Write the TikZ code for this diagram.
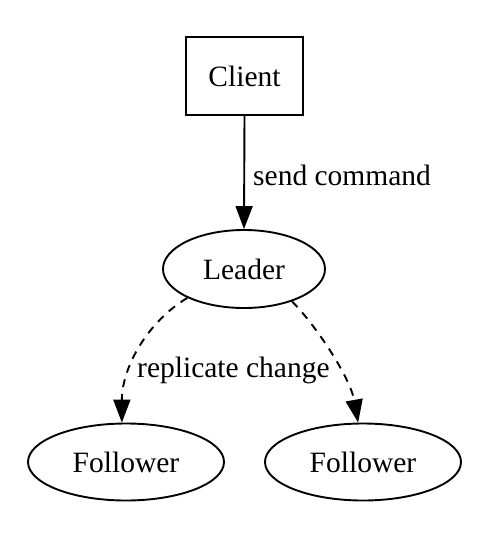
\documentclass[tikz,border=0pt]{standalone}
\usepackage{fontspec}
\setmainfont{Liberation Serif}
\usetikzlibrary{shapes.geometric,arrows.meta}
\begin{document}
\begin{tikzpicture}[x=1pt,y=-1pt,
  every node/.style={font=\fontsize{29.5}{34}\selectfont},
  boxnode/.style={draw, rectangle, line width=1.9pt, minimum width=117pt, minimum height=78pt, inner sep=0pt},
  ellnode/.style={draw, ellipse, line width=1.9pt, inner sep=0pt},
  link/.style={line width=1.9pt, -{Triangle[length=23pt,width=17pt]}},
  repl/.style={link, dash pattern=on 8pt off 7pt},
  lbl/.style={inner sep=0pt, anchor=base west}]
\useasboundingbox (0,0) rectangle (481,547);
\node[boxnode] (client) at (244.5,76) {Client};
\node[ellnode, minimum width=162pt, minimum height=78pt] (leader) at (244,269) {Leader};
\node[ellnode, minimum width=196pt, minimum height=77pt] (f1) at (126,462) {Follower};
\node[ellnode, minimum width=196pt, minimum height=77pt] (f2) at (363,462) {Follower};
\draw[link] (client.south) -- (leader.north);
\node[lbl] (sendlbl) at (253,185) {send command};
\draw[repl] (leader.-153) .. controls +(-40,24) and +(0,-55) .. (f1.96);
\draw[repl] (leader.-34) .. controls +(24,24) and +(-8,-45) .. (f2.97);
\node[lbl] (repllbl) at (137,377) {replicate change};
\end{tikzpicture}
\end{document}
